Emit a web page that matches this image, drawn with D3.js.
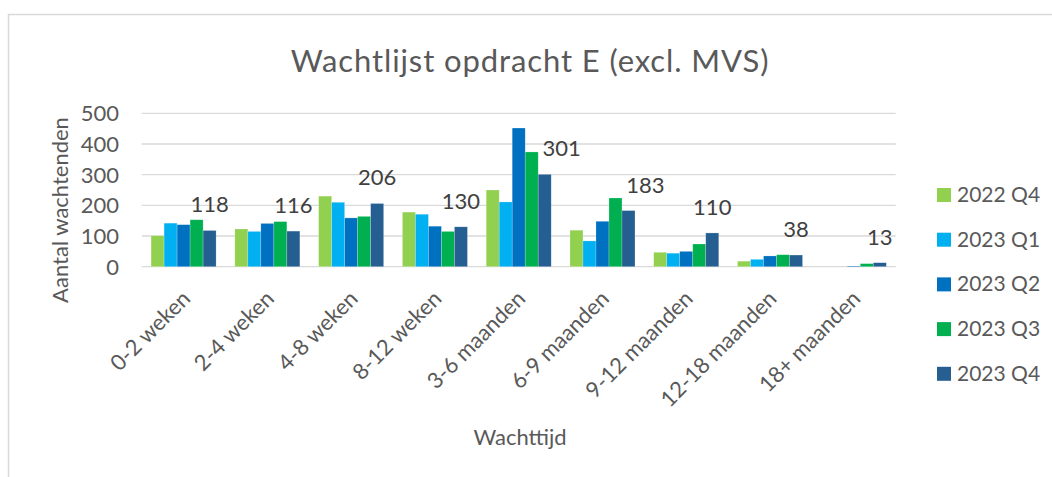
<!DOCTYPE html>
<html>
<head>
<meta charset="utf-8">
<script src="https://cdn.jsdelivr.net/npm/d3@7"></script>
<style>
  body { margin: 0; background: #fff; }
  text { font-family: Lato, 'Open Sans', sans-serif; }
</style>
</head>
<body>
<div id="chart"></div>
<script>
// Waiting list per waiting-time bucket, five quarters
const categories = ['0-2 weken', '2-4 weken', '4-8 weken', '8-12 weken', '3-6 maanden',
    '6-9 maanden', '9-12 maanden', '12-18 maanden', '18+ maanden'];
const seriesNames = ['2022 Q4', '2023 Q1', '2023 Q2', '2023 Q3', '2023 Q4'];
const seriesColors = ['#92d050', '#00b0f0', '#0070c0', '#00b050', '#255e91'];

const q4_2022 = [101, 123, 230, 178, 250, 119, 47, 18, 0];
const q1_2023 = [142, 115, 210, 171, 211, 84, 44, 24, 0];
const q2_2023 = [137, 141, 159, 132, 452, 148, 50, 35, 2];
const q3_2023 = [153, 147, 164, 115, 374, 224, 74, 39, 10];
const q4_2023 = [118, 116, 206, 130, 301, 183, 110, 38, 13];
const yTicks = [0, 100, 200, 300, 400, 500];

const series = [q4_2022, q1_2023, q2_2023, q3_2023, q4_2023];

const width = 1052;
const height = 477;
const plot = { left: 141.7, right: 895.7, top: 113.3, bottom: 266.7 };

const svg = d3.select('#chart').append('svg')
    .attr('width', width)
    .attr('height', height);

// chart frame (only top and left edge fall inside the picture)
svg.append('rect')
    .attr('x', 8.5)
    .attr('y', 14.5)
    .attr('width', 1100)
    .attr('height', 500)
    .style('fill', '#fff')
    .style('stroke', '#d9d9d9')
    .style('stroke-width', 1.5);

const x = d3.scaleBand()
    .domain(categories)
    .range([plot.left, plot.right])
    .paddingInner(0.224)
    .paddingOuter(0.112);

const xSub = d3.scaleBand()
    .domain(seriesNames)
    .range([0, x.bandwidth()]);

const y = d3.scaleLinear()
    .domain([0, 500])
    .range([plot.bottom, plot.top]);

// gridlines
svg.append('g')
    .selectAll('line')
    .data(yTicks)
    .enter().append('line')
    .attr('x1', plot.left)
    .attr('x2', plot.right)
    .attr('y1', d => y(d))
    .attr('y2', d => y(d))
    .style('stroke', '#d9d9d9')
    .style('stroke-width', 1.3);

// y tick labels
svg.append('g')
    .selectAll('text')
    .data(yTicks)
    .enter().append('text')
    .attr('x', 119)
    .attr('y', d => y(d))
    .attr('dy', '0.36em')
    .style('text-anchor', 'end')
    .style('font-size', '22px')
    .style('fill', '#595959')
    .text(d => d);

// bars
const groups = svg.append('g')
    .selectAll('g')
    .data(seriesNames)
    .enter().append('g')
    .style('fill', (d, i) => seriesColors[i]);

groups.selectAll('rect')
    .data((name, si) => series[si].map((v, ci) => ({ name, v, cat: categories[ci] })))
    .enter().append('rect')
    .attr('x', d => x(d.cat) + xSub(d.name))
    .attr('y', d => y(d.v))
    .attr('width', xSub.bandwidth())
    .attr('height', d => y(0) - y(d.v))
    .style('stroke', 'rgba(255,255,255,0.35)')
    .style('stroke-width', 0.6);

// data labels on latest quarter; nudge right when the Q3 bar would run into the label
const labelGap = 18;
svg.append('g')
    .selectAll('text')
    .data(q4_2023)
    .enter().append('text')
    .attr('x', (d, i) => {
        const cx = x(categories[i]) + xSub('2023 Q4') + xSub.bandwidth() / 2;
        const bumps = y(q3_2023[i]) < y(d) - labelGap + 6;
        return bumps ? cx + xSub.bandwidth() + 4 : cx;
    })
    .attr('y', d => y(d) - labelGap)
    .style('text-anchor', 'middle')
    .style('font-size', '22px')
    .style('fill', '#404040')
    .text(d => d);

// x tick labels, rotated
svg.append('g')
    .selectAll('text')
    .data(categories)
    .enter().append('text')
    .attr('transform', d => `translate(${x(d) + x.bandwidth() / 2 + 8},300) rotate(-45)`)
    .style('text-anchor', 'end')
    .style('font-size', '22px')
    .style('fill', '#595959')
    .text(d => d);

// legend
const legend = svg.append('g')
    .selectAll('g')
    .data(seriesNames)
    .enter().append('g')
    .attr('transform', (d, i) => `translate(937,${188 + i * 44.7})`);

legend.append('rect')
    .attr('width', 14)
    .attr('height', 14)
    .style('fill', (d, i) => seriesColors[i]);

legend.append('text')
    .attr('x', 20)
    .attr('y', 14)
    .style('font-size', '21px')
    .style('fill', '#595959')
    .text(d => d);

// titles
svg.append('text')
    .attr('x', 530)
    .attr('y', 72)
    .style('text-anchor', 'middle')
    .style('font-size', '31px')
    .style('letter-spacing', '0.9px')
    .style('fill', '#595959')
    .text('Wachtlijst opdracht E (excl. MVS)');

svg.append('text')
    .attr('transform', 'translate(68,210) rotate(-90)')
    .style('text-anchor', 'middle')
    .style('font-size', '22px')
    .style('fill', '#595959')
    .text('Aantal wachtenden');

svg.append('text')
    .attr('x', 520)
    .attr('y', 445)
    .style('text-anchor', 'middle')
    .style('font-size', '22px')
    .style('fill', '#595959')
    .text('Wachttijd');
</script>
</body>
</html>
